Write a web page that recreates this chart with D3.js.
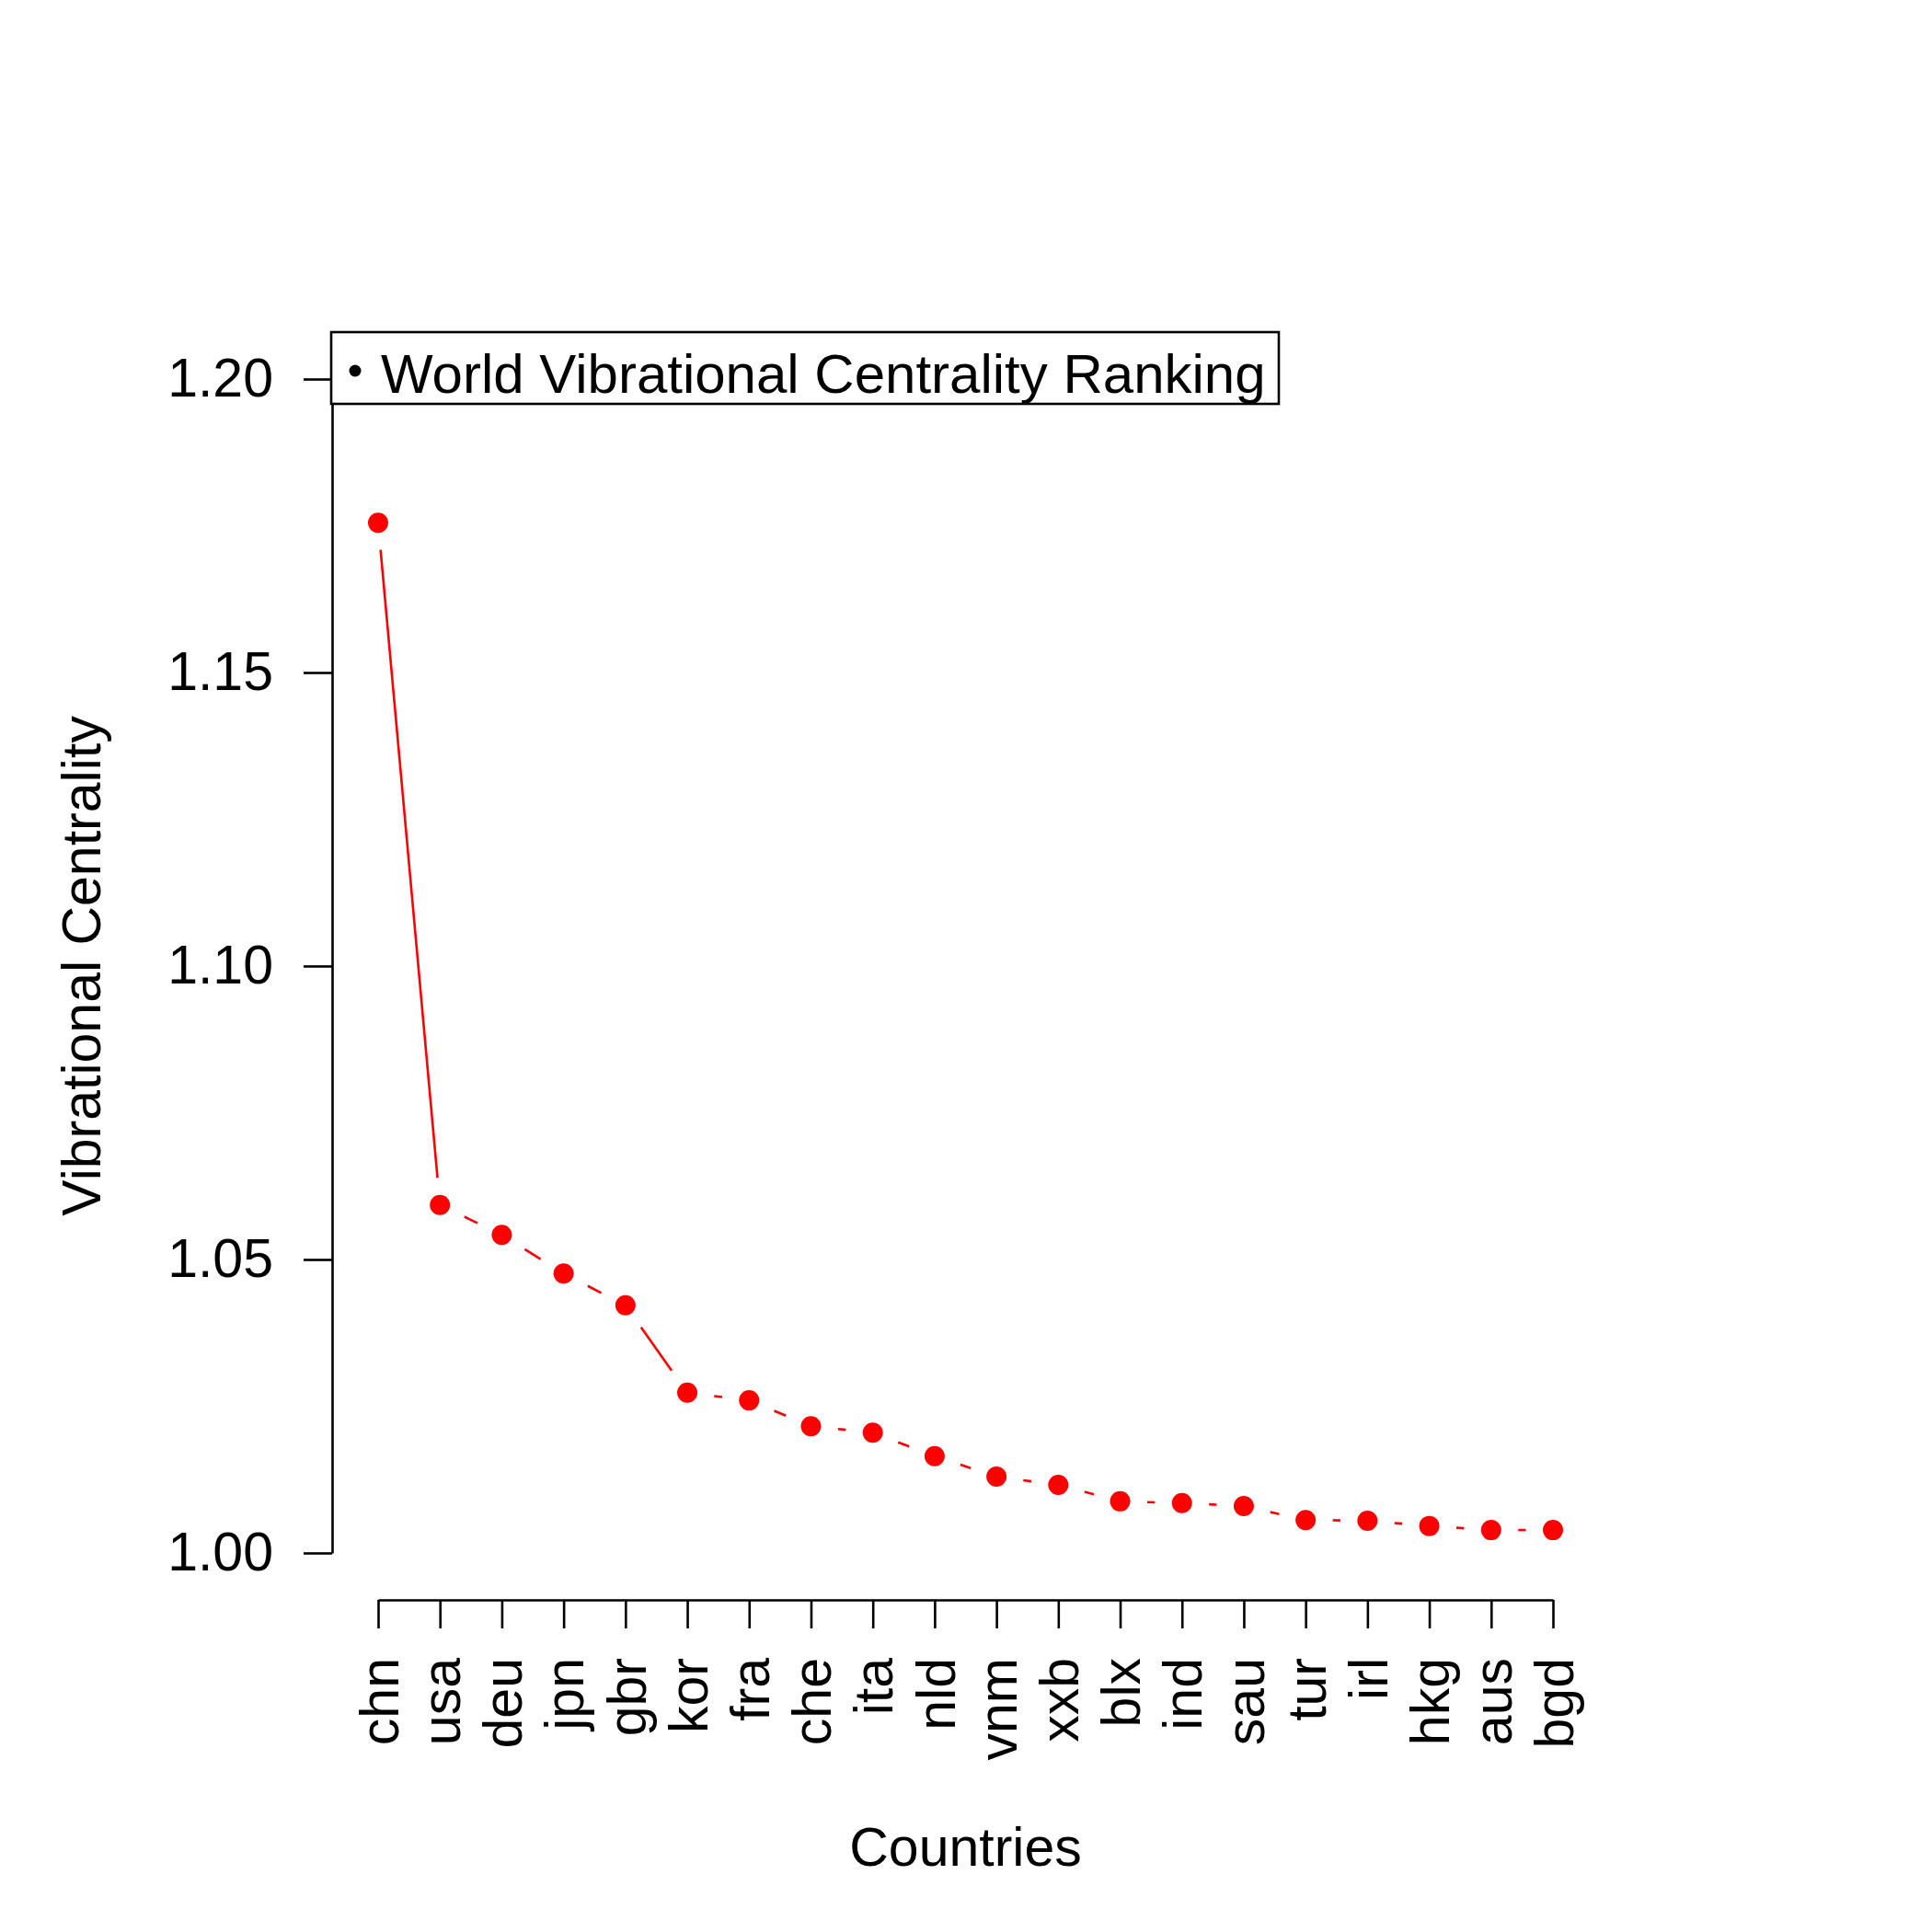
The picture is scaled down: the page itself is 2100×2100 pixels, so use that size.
<!DOCTYPE html>
<html>
<head>
<meta charset="utf-8">
<script src="https://cdn.jsdelivr.net/npm/d3@7"></script>
<style>
  body { margin: 0; background: white; }
  text { font-family: "Liberation Sans", Arial, sans-serif; }
</style>
</head>
<body>
<div id="chart"></div>
<script>
var countries = ['chn', 'usa', 'deu', 'jpn', 'gbr', 'kor', 'fra', 'che', 'ita', 'nld',
                 'vnm', 'xxb', 'blx', 'ind', 'sau', 'tur', 'irl', 'hkg', 'aus', 'bgd'];
var centrality = [1.1755, 1.0593, 1.0542, 1.0476, 1.0422, 1.0273, 1.0260, 1.0216, 1.0205, 1.0165,
                  1.0130, 1.0116, 1.0088, 1.0085, 1.0080, 1.0056, 1.0055, 1.0046, 1.0039, 1.0039];
var yTicks = [1.00, 1.05, 1.10, 1.15, 1.20];
var legendLabel = 'World Vibrational Centrality Ranking';

var svg = d3.select('#chart')
    .append('svg')
        .attr('width', 2100)
        .attr('height', 2100)
        .style('background', 'white');

var x = d3.scalePoint()
    .domain(countries)
    .range([411, 1688]);

var y = d3.scaleLinear()
    .domain([1.0, 1.2])
    .range([1688, 412]);

// y axis, labels perpendicular like R las=2
var yAxis = svg.append('g')
    .attr('transform', 'translate(361,0)')
    .call(d3.axisLeft(y)
        .tickValues(yTicks)
        .tickFormat(d3.format('.2f'))
        .tickSize(31)
        .tickSizeOuter(0)
        .tickPadding(33));

// x axis sits at bottom of the padded plot region
var xAxis = svg.append('g')
    .attr('transform', 'translate(0,1739)')
    .call(d3.axisBottom(x)
        .tickSize(31)
        .tickSizeOuter(0));

xAxis.selectAll('.tick text')
    .attr('transform', 'rotate(-90)')
    .attr('x', -63)
    .attr('y', 0)
    .attr('dy', '0.36em')
    .style('text-anchor', 'end');

svg.selectAll('.domain, .tick line')
    .attr('stroke', 'black')
    .attr('stroke-width', 2.6);

svg.selectAll('.tick text')
    .attr('fill', 'black')
    .style('font-size', '59px');

// type="b": segments with a gap around each point
var gap = 29.5;
var segs = [];
for (var i = 0; i < countries.length - 1; i++) {
    var x0 = x(countries[i]), y0 = y(centrality[i]);
    var x1 = x(countries[i + 1]), y1 = y(centrality[i + 1]);
    var dx = x1 - x0, dy = y1 - y0;
    var len = Math.sqrt(dx * dx + dy * dy);
    if (len > 2 * gap) {
        var ux = dx / len, uy = dy / len;
        segs.push([x0 + ux * gap, y0 + uy * gap, x1 - ux * gap, y1 - uy * gap]);
    }
}

svg.selectAll('line.seg')
    .data(segs)
    .enter()
    .append('line')
        .attr('class', 'seg')
        .attr('x1', function(d) { return d[0]; })
        .attr('y1', function(d) { return d[1]; })
        .attr('x2', function(d) { return d[2]; })
        .attr('y2', function(d) { return d[3]; })
        .attr('stroke', 'red')
        .style('stroke-width', 2.6);

svg.selectAll('circle.pt')
    .data(centrality)
    .enter()
    .append('circle')
        .attr('class', 'pt')
        .attr('cx', function(d, i) { return x(countries[i]); })
        .attr('cy', function(d) { return y(d); })
        .attr('r', 11)
        .style('fill', 'red');

// legend
var legend = svg.append('g');
legend.append('rect')
    .attr('x', 360)
    .attr('y', 361)
    .attr('width', 1030)
    .attr('height', 78)
    .style('fill', 'white')
    .attr('stroke', 'black')
    .style('stroke-width', 2.6);

legend.append('circle')
    .attr('cx', 386)
    .attr('cy', 403)
    .attr('r', 6.5)
    .style('fill', 'black');

legend.append('text')
    .attr('x', 414)
    .attr('y', 427)
    .style('font-size', '60px')
    .text(legendLabel);

// axis titles
svg.append('text')
    .attr('x', 1049.5)
    .attr('y', 2028)
    .attr('text-anchor', 'middle')
    .style('font-size', '59px')
    .text('Countries');

svg.append('text')
    .attr('transform', 'translate(109,1050) rotate(-90)')
    .attr('text-anchor', 'middle')
    .style('font-size', '59px')
    .text('Vibrational Centrality');
</script>
</body>
</html>
